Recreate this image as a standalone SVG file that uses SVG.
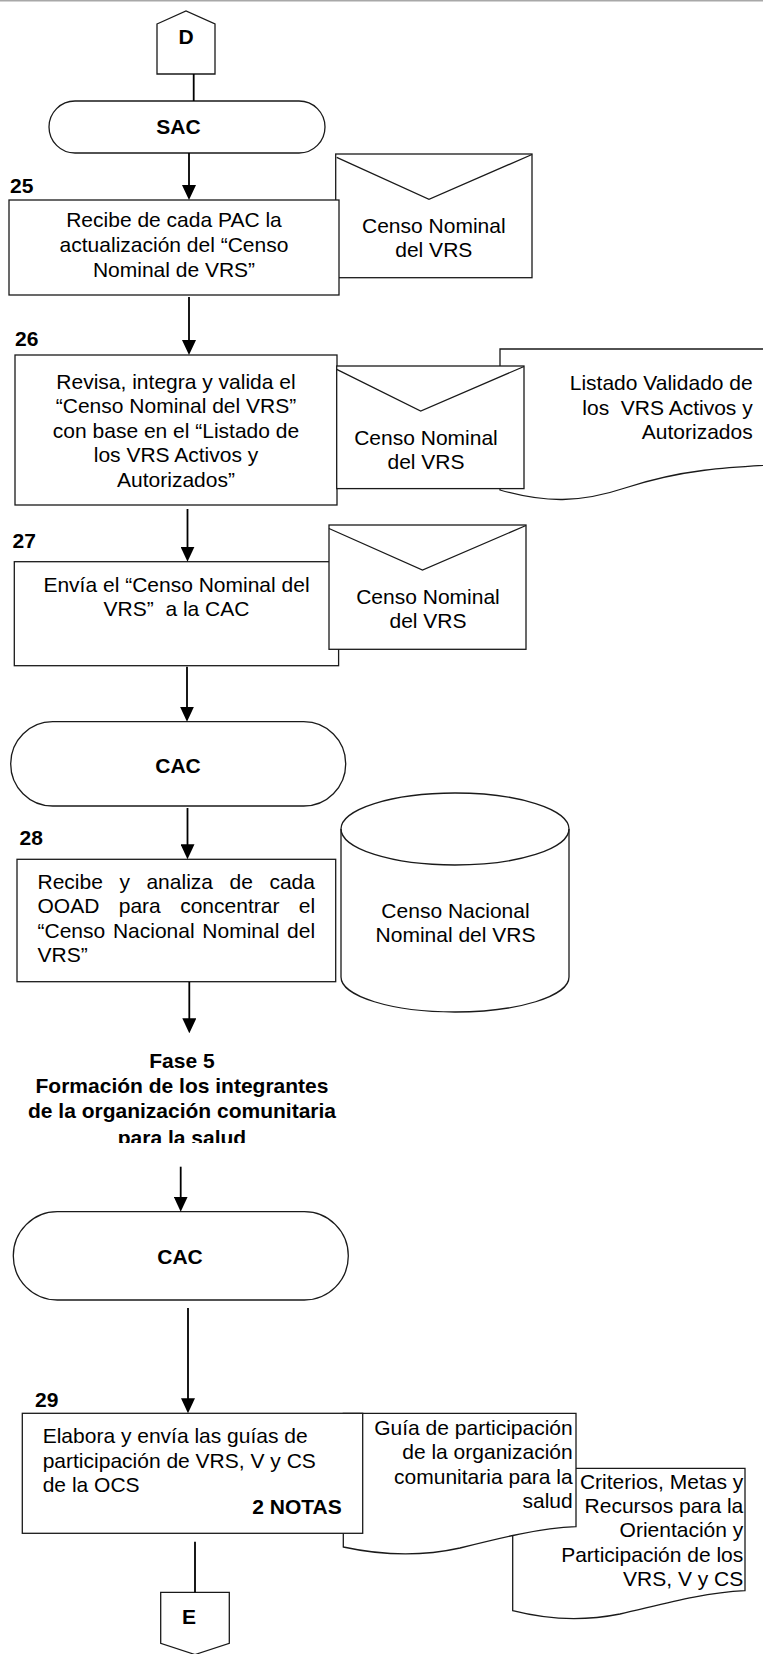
<svg xmlns="http://www.w3.org/2000/svg" width="763" height="1654" viewBox="0 0 763 1654">
<defs>
  <style>
    .shape{fill:#fff;stroke:#1a1a1a;stroke-width:1.3}
    .flap{fill:none;stroke:#1a1a1a;stroke-width:1.3}
    .conn{fill:none;stroke:#000;stroke-width:1.8}
    text{font-family:"Liberation Sans",Arial,Helvetica,sans-serif;font-size:21px;fill:#000}
    .b{font-weight:bold}
    .c{text-anchor:middle}
    .r{text-anchor:end}
    .pre{white-space:pre}
  </style>
  <marker id="arrow" viewBox="0 0 15 14" markerWidth="15" markerHeight="14" refX="7" refY="7" orient="auto" markerUnits="userSpaceOnUse">
    <path d="M0,0 L15,7 L0,14 Z" fill="#000"/>
  </marker>
  <clipPath id="phaseClip">
    <rect x="0" y="1040" width="380" height="103"/>
  </clipPath>
</defs>

<!-- page rule -->
<line x1="0" y1="0.8" x2="763" y2="0.8" stroke="#a8a8a8" stroke-width="1.6"/>

<!-- off-page connector D -->
<g id="connector-D">
  <path class="shape" d="M157,24 L186,11 L215,24 L215,74 L157,74 Z"/>
  <text class="b c" x="186" y="44" font-size="20">D</text>
</g>

<!-- SAC -->
<g id="term-SAC">
  <rect class="shape" x="49" y="101" width="276" height="52" rx="26"/>
  <text class="b c" x="178.5" y="133.5">SAC</text>
</g>

<!-- envelope: Censo Nominal (25) -->
<g id="doc-censo-25">
  <rect class="shape" x="335.7" y="154" width="196.3" height="123.7"/>
  <path class="flap" d="M336.7,157.3 L429,199.3 L532,154.5"/>
  <text class="c" x="433.8" y="233">Censo Nominal</text>
  <text class="c" x="433.8" y="257">del VRS</text>
</g>

<!-- step 25 -->
<g id="step-25">
  <text class="b" x="10" y="193">25</text>
  <rect class="shape" x="9" y="200" width="330" height="95"/>
  <text class="c" x="174" y="227">Recibe de cada PAC la</text>
  <text class="c" x="174" y="252">actualización del “Censo</text>
  <text class="c" x="174" y="277">Nominal de VRS”</text>
</g>

<!-- step 26 -->
<g id="step-26">
  <text class="b" x="15" y="346">26</text>
  <rect class="shape" x="15" y="355" width="322" height="150"/>
  <text class="c" x="176" y="388.5">Revisa, integra y valida el</text>
  <text class="c" x="176" y="413">“Censo Nominal del VRS”</text>
  <text class="c" x="176" y="437.5">con base en el “Listado de</text>
  <text class="c" x="176" y="462">los VRS Activos y</text>
  <text class="c" x="176" y="486.5">Autorizados”</text>
</g>

<!-- document: Listado Validado -->
<g id="doc-listado">
  <path class="shape" d="M500,490 L500,349 L810,349 L810,463 C720,467 680,470 625,488 C580,503 545,503 500,490 Z"/>
  <text class="r" x="752.7" y="390">Listado Validado de</text>
  <text class="r pre" x="752.7" y="414.5">los  VRS Activos y</text>
  <text class="r" x="752.7" y="439">Autorizados</text>
</g>

<!-- envelope: Censo Nominal (26) -->
<g id="doc-censo-26">
  <rect class="shape" x="336.7" y="366" width="187.3" height="122.6"/>
  <path class="flap" d="M336.7,369.3 L420.7,411 L524,366.5"/>
  <text class="c" x="426" y="445">Censo Nominal</text>
  <text class="c" x="426" y="469">del VRS</text>
</g>

<!-- step 27 -->
<g id="step-27">
  <text class="b" x="12.5" y="548.3">27</text>
  <rect class="shape" x="14.3" y="561.7" width="324.3" height="104"/>
  <text class="c" x="176.5" y="591.7">Envía el “Censo Nominal del</text>
  <text class="c pre" x="176.5" y="616">VRS”  a la CAC</text>
</g>

<!-- envelope: Censo Nominal (27) -->
<g id="doc-censo-27">
  <rect class="shape" x="329" y="525" width="197" height="124.3"/>
  <path class="flap" d="M329,528.5 L422.5,570 L526,525.5"/>
  <text class="c" x="428" y="604">Censo Nominal</text>
  <text class="c" x="428" y="628.3">del VRS</text>
</g>

<!-- CAC -->
<g id="term-CAC-1">
  <rect class="shape" x="10.7" y="721.7" width="335" height="84.3" rx="42"/>
  <text class="b c" x="178" y="772.7">CAC</text>
</g>

<!-- step 28 -->
<g id="step-28">
  <text class="b" x="19.6" y="845">28</text>
  <rect class="shape" x="17" y="859.3" width="318.7" height="122.4"/>
  <text x="37.5" y="888.5" word-spacing="10.7">Recibe y analiza de cada</text>
  <text x="37.5" y="913" word-spacing="13.56">OOAD para concentrar el</text>
  <text x="37.5" y="937.5" word-spacing="1.86">“Censo Nacional Nominal del</text>
  <text x="37.5" y="962">VRS”</text>
</g>

<!-- database: Censo Nacional Nominal -->
<g id="db-censo-nacional">
  <path class="shape" d="M341,829 A114,36 0 0 1 569,829 L569,977 A114,35 0 0 1 341,977 Z"/>
  <path class="flap" d="M341,829 A114,36 0 0 0 569,829"/>
  <text class="c" x="455.5" y="918">Censo Nacional</text>
  <text class="c" x="455.5" y="942">Nominal del VRS</text>
</g>

<!-- phase heading -->
<g id="phase-5" clip-path="url(#phaseClip)">
  <text class="b c" x="182" y="1068">Fase 5</text>
  <text class="b c" x="182" y="1093">Formación de los integrantes</text>
  <text class="b c" x="182" y="1118">de la organización comunitaria</text>
  <text class="b c" x="182" y="1145">para la salud</text>
</g>

<!-- CAC -->
<g id="term-CAC-2">
  <rect class="shape" x="13.3" y="1211.7" width="335" height="88.3" rx="44"/>
  <text class="b c" x="180" y="1264">CAC</text>
</g>

<!-- document: Criterios, Metas y Recursos -->
<g id="doc-criterios">
  <path class="shape" d="M512.7,1610.7 L512.7,1468.3 L745,1468.3 L745,1590.7 C700,1593 660,1605 620,1614 C580,1622 545,1619 512.7,1610.7 Z"/>
  <text class="r" x="743.3" y="1488.5">Criterios, Metas y</text>
  <text class="r" x="743.3" y="1513">Recursos para la</text>
  <text class="r" x="743.3" y="1537">Orientación y</text>
  <text class="r" x="743.3" y="1561.5">Participación de los</text>
  <text class="r" x="743.3" y="1586">VRS, V y CS</text>
</g>

<!-- document: Guía de participación -->
<g id="doc-guia">
  <path class="shape" d="M343.3,1547 L343.3,1413.3 L576,1413.3 L576,1526.7 C540,1528 500,1538 460,1548 C420,1557 380,1555 343.3,1547 Z"/>
  <text class="r" x="572.7" y="1434.5">Guía de participación</text>
  <text class="r" x="572.7" y="1459">de la organización</text>
  <text class="r" x="572.7" y="1483.5">comunitaria para la</text>
  <text class="r" x="572.7" y="1508">salud</text>
</g>

<!-- step 29 -->
<g id="step-29">
  <text class="b" x="35" y="1407">29</text>
  <rect class="shape" x="22.3" y="1413.3" width="340.4" height="120"/>
  <text x="42.7" y="1443">Elabora y envía las guías de</text>
  <text x="42.7" y="1467.5">participación de VRS, V y CS</text>
  <text x="42.7" y="1492">de la OCS</text>
  <text class="b r" x="341.7" y="1514" font-size="18">2 NOTAS</text>
</g>

<!-- off-page connector E -->
<g id="connector-E">
  <path class="shape" d="M160.7,1592.3 L229.3,1592.3 L229.3,1643.3 L195,1654.5 L160.7,1643.3 Z"/>
  <text class="b c" x="189" y="1624.3">E</text>
</g>

<!-- flow connectors -->
<g id="connectors">
  <line class="conn" x1="193.7" y1="74" x2="193.7" y2="101"/>
  <line class="conn" x1="189" y1="153" x2="189" y2="192" marker-end="url(#arrow)"/>
  <line class="conn" x1="189" y1="297" x2="189" y2="347" marker-end="url(#arrow)"/>
  <line class="conn" x1="187.5" y1="509" x2="187.5" y2="553.7" marker-end="url(#arrow)"/>
  <line class="conn" x1="187" y1="666.7" x2="187" y2="713.7" marker-end="url(#arrow)"/>
  <line class="conn" x1="187.5" y1="808" x2="187.5" y2="851.3" marker-end="url(#arrow)"/>
  <line class="conn" x1="189.3" y1="982" x2="189.3" y2="1025.3" marker-end="url(#arrow)"/>
  <line class="conn" x1="180.7" y1="1166.7" x2="180.7" y2="1203.7" marker-end="url(#arrow)"/>
  <line class="conn" x1="188" y1="1308" x2="188" y2="1405.3" marker-end="url(#arrow)"/>
  <line class="conn" x1="195" y1="1541.7" x2="195" y2="1592.3"/>
</g>
</svg>
